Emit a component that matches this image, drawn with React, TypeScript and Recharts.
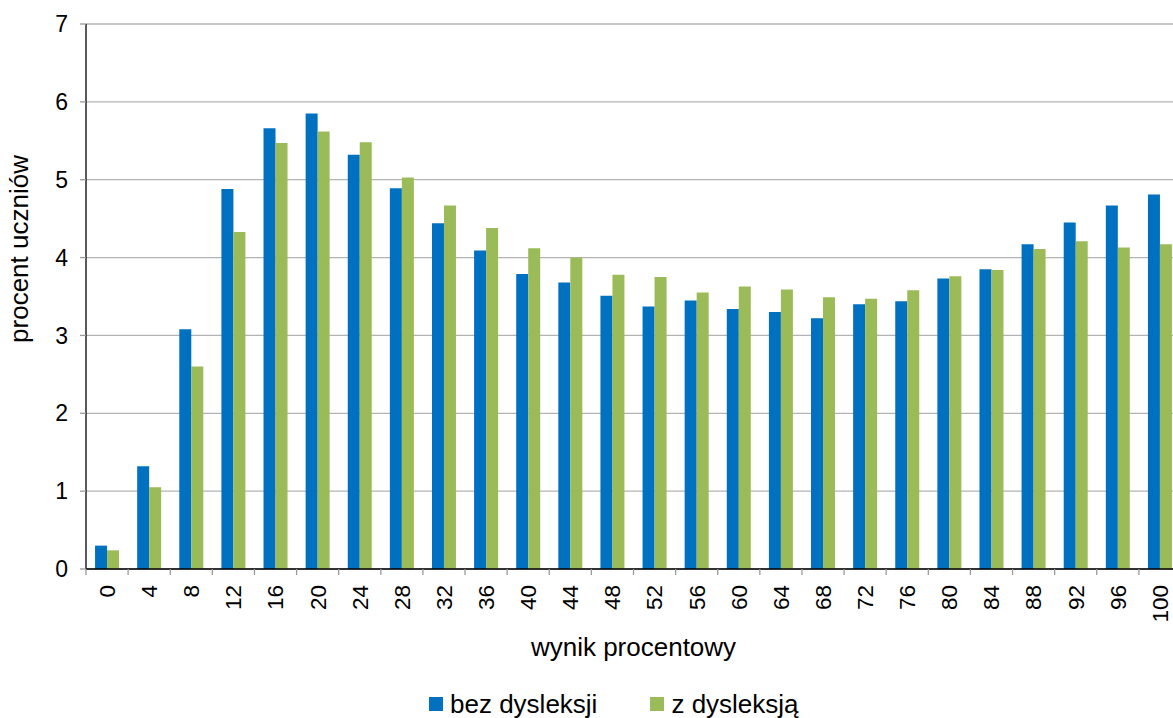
import { BarChart, Bar, XAxis, YAxis, CartesianGrid, Label } from "recharts";

// wynik procentowy (x categories)
const scores = [
  0, 4, 8, 12, 16, 20, 24, 28, 32, 36, 40, 44, 48, 52, 56, 60, 64, 68, 72, 76,
  80, 84, 88, 92, 96, 100,
];

// procent uczniów
const withoutDyslexia = [
  0.3, 1.32, 3.08, 4.88, 5.66, 5.85, 5.32, 4.89, 4.44, 4.09, 3.79, 3.68, 3.51,
  3.37, 3.45, 3.34, 3.3, 3.22, 3.4, 3.44, 3.73, 3.85, 4.17, 4.45, 4.67, 4.81,
];
const withDyslexia = [
  0.24, 1.05, 2.6, 4.33, 5.47, 5.62, 5.48, 5.03, 4.67, 4.38, 4.12, 4.0, 3.78,
  3.75, 3.55, 3.63, 3.59, 3.49, 3.47, 3.58, 3.76, 3.84, 4.11, 4.21, 4.13, 4.17,
];

const yTicks = [0, 1, 2, 3, 4, 5, 6, 7];

const seriesNames = ["bez dysleksji", "z dysleksją"];
const BLUE = "#0070C0";
const GREEN = "#9BBB59";
const FONT = "'Liberation Sans', Arial, sans-serif";

const data = scores.map((s, i) => ({
  score: String(s),
  bez: withoutDyslexia[i],
  z: withDyslexia[i],
}));

// rotated category label + tick mark on the left edge of each band
function ScoreTick(props: any) {
  const { x, y, payload } = props;
  const half = payload.offset || 0;
  return (
    <g>
      <line x1={x - half} x2={x - half} y1={y} y2={y + 6} stroke="#9a9a9a" strokeWidth={1.3} />
      <text
        transform={`translate(${x},${y}) rotate(-90)`}
        x={-16}
        dy="0.35em"
        textAnchor="end"
        fontSize={22.5}
        fontFamily={FONT}
        fill="#000"
      >
        {payload.value}
      </text>
    </g>
  );
}

function XTitle(props: any) {
  const { viewBox } = props;
  return (
    <text
      x={viewBox.x + viewBox.width / 2}
      y={viewBox.y + 87}
      textAnchor="middle"
      fontSize={26}
      fontFamily={FONT}
      fill="#000"
    >
      wynik procentowy
    </text>
  );
}

function YTitle(props: any) {
  const { viewBox } = props;
  return (
    <text
      transform={`translate(${viewBox.x + 28},${viewBox.y + 225}) rotate(-90)`}
      textAnchor="middle"
      fontSize={26}
      fontFamily={FONT}
      fill="#000"
    >
      procent uczniów
    </text>
  );
}

export default function App() {
  return (
    <div
      style={{
        position: "absolute",
        left: 0,
        top: 0,
        width: 1173,
        height: 718,
        overflow: "hidden",
        background: "#fff",
        fontFamily: FONT,
      }}
    >
      <BarChart
        width={1198}
        height={718}
        data={data}
        margin={{ top: 24, right: 17, bottom: 0, left: 0 }}
        barCategoryGap="21.5%"
        barGap={0}
      >
        <CartesianGrid vertical={false} stroke="#b3b3b3" strokeWidth={1.3} />
        <XAxis
          dataKey="score"
          height={149}
          interval={0}
          tickSize={0}
          tickMargin={0}
          tickLine={false}
          axisLine={{ stroke: "#000", strokeWidth: 1.3 }}
          tick={<ScoreTick />}
        >
          <Label content={<XTitle />} />
        </XAxis>
        <YAxis
          width={86}
          domain={[0, 7]}
          ticks={yTicks}
          interval={0}
          tickSize={6}
          tickMargin={12}
          axisLine={{ stroke: "#000", strokeWidth: 1.3 }}
          tickLine={{ stroke: "#9a9a9a", strokeWidth: 1.3 }}
          tick={{ fontSize: 23, fontFamily: FONT, fill: "#000" }}
        >
          <Label content={<YTitle />} />
        </YAxis>
        <Bar dataKey="bez" name={seriesNames[0]} fill={BLUE} isAnimationActive={false} />
        <Bar dataKey="z" name={seriesNames[1]} fill={GREEN} isAnimationActive={false} />
      </BarChart>
      <div
        style={{
          position: "absolute",
          left: 429,
          top: 690,
          height: 28,
          display: "flex",
          alignItems: "center",
          fontSize: 26,
          lineHeight: "28px",
          color: "#000",
        }}
      >
        {seriesNames.map((name, i) => (
          <div
            key={name}
            style={{ display: "flex", alignItems: "center", marginRight: i === 0 ? 53 : 0 }}
          >
            <span
              style={{
                width: 14,
                height: 14,
                background: i === 0 ? BLUE : GREEN,
                marginRight: 7,
                display: "inline-block",
              }}
            />
            <span>{name}</span>
          </div>
        ))}
      </div>
    </div>
  );
}
